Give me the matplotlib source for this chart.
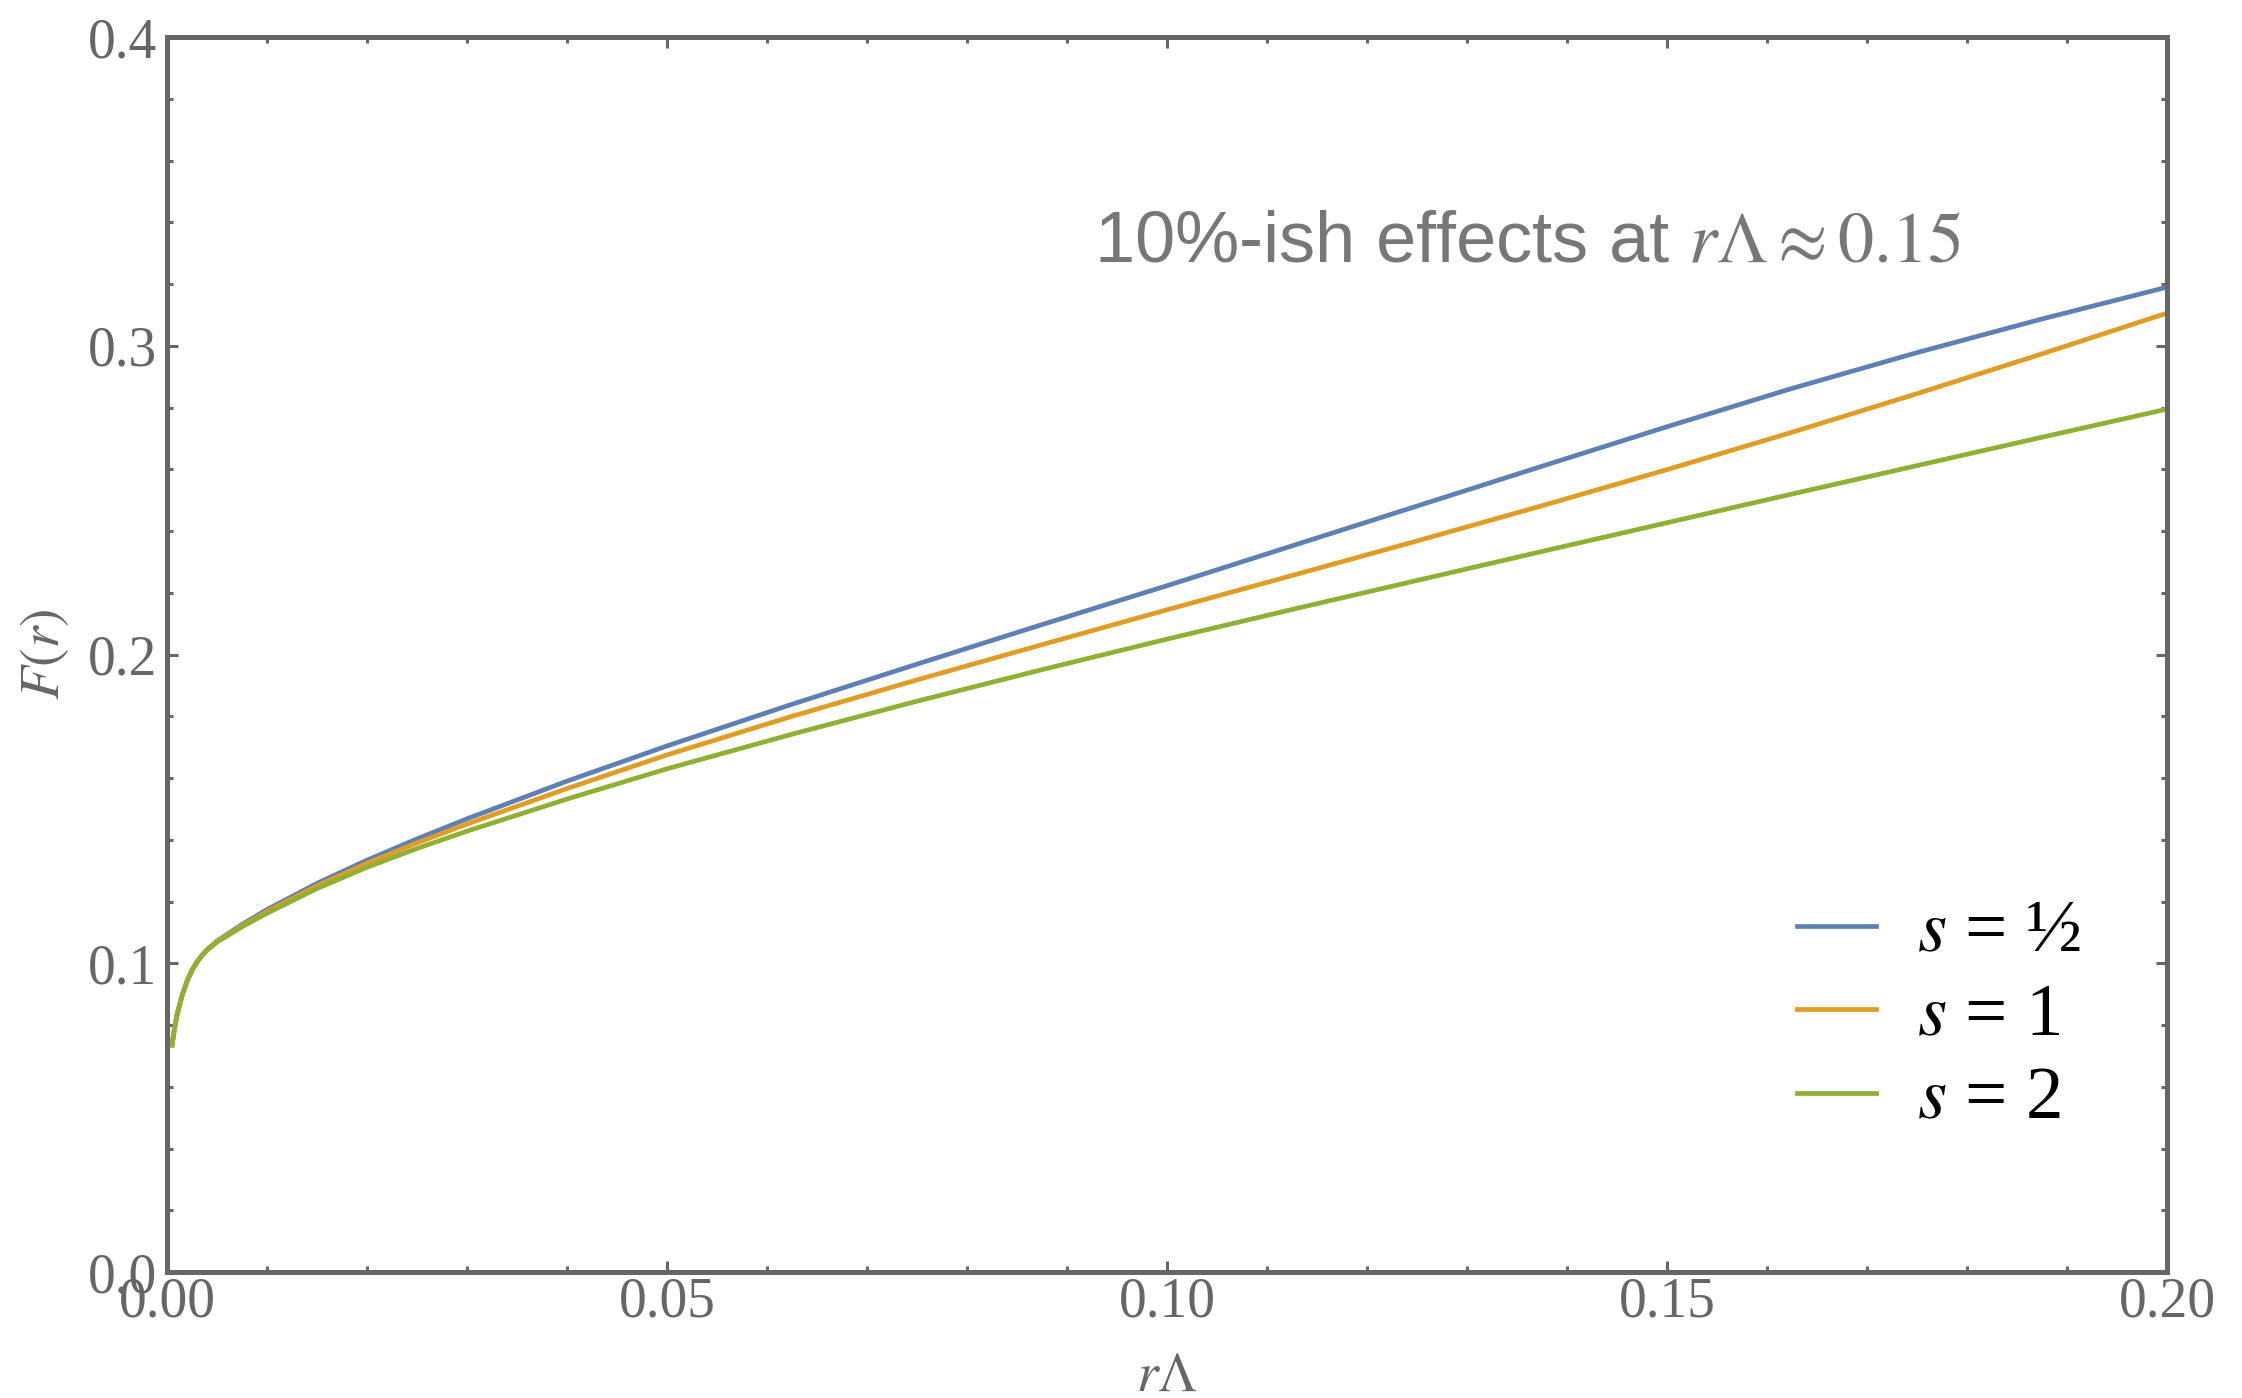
import matplotlib.pyplot as plt
import numpy as np

plt.rcParams['mathtext.fontset'] = 'stix'
plt.rcParams['font.family'] = ['Liberation Serif', 'DejaVu Serif']

# values
r_lam = np.asarray([0.0005, 0.00075, 0.001, 0.0015, 0.002, 0.0025, 0.003, 0.0035, 0.004,
                    0.005, 0.0075, 0.01, 0.015, 0.02, 0.025, 0.03, 0.04, 0.05, 0.0625,
                    0.075, 0.0875, 0.1, 0.1125, 0.125, 0.1375, 0.15, 0.1625, 0.175,
                    0.1875, 0.2])
F_half = [0.0735, 0.0790, 0.0833, 0.0895, 0.0942, 0.0978, 0.1005, 0.1026, 0.1044,
          0.1072, 0.1126, 0.1174, 0.1259, 0.1334, 0.1403, 0.1468, 0.1590, 0.1704, 0.1839,
          0.1969, 0.2097, 0.2223, 0.2352, 0.2481, 0.2610, 0.2738, 0.2862, 0.2978,
          0.3087, 0.3190]
F_one = [0.0735, 0.0790, 0.0833, 0.0895, 0.0942, 0.0978, 0.1005, 0.1026, 0.1043,
         0.1071, 0.1122, 0.1168, 0.1251, 0.1324, 0.1390, 0.1451, 0.1566, 0.1675, 0.1800,
         0.1918, 0.2032, 0.2145, 0.2256, 0.2368, 0.2482, 0.2599, 0.2720, 0.2845,
         0.2974, 0.3106]
F_two = [0.0735, 0.0790, 0.0833, 0.0895, 0.0942, 0.0977, 0.1004, 0.1025, 0.1042,
         0.1069, 0.1118, 0.1162, 0.1242, 0.1311, 0.1372, 0.1428, 0.1532, 0.1630, 0.1742,
         0.1849, 0.1951, 0.2050, 0.2146, 0.2240, 0.2334, 0.2427, 0.2520, 0.2612,
         0.2704, 0.2795]
labels = [r'$s$ = ½', r'$s$ = 1', r'$s$ = 2']
colors = ['#5E81B5', '#E19C24', '#8FB032']

gray = '#666666'

fig = plt.figure(figsize=(11.21, 6.99), dpi=200)
ax = fig.add_axes([0.0745, 0.0901, 0.8921, 0.8834])

for F, lab, c in zip([F_half, F_one, F_two], labels, colors):
    ax.plot(r_lam, F, color=c, lw=1.7, label=lab)

ax.set_xlim(0, 0.2)
ax.set_ylim(0, 0.4)
ax.set_xticks([0, 0.05, 0.10, 0.15, 0.20])
ax.set_xticklabels(['0.00', '0.05', '0.10', '0.15', '0.20'])
ax.set_yticks([0, 0.1, 0.2, 0.3, 0.4])
ax.set_yticklabels(['0.0', '0.1', '0.2', '0.3', '0.4'])
ax.set_xticks(np.arange(0, 0.2001, 0.01), minor=True)
ax.set_yticks(np.arange(0, 0.4001, 0.02), minor=True)

ax.tick_params(which='both', direction='in', top=True, right=True, color=gray,
               labelcolor=gray, labelsize=20, width=1.1)
ax.tick_params(which='major', length=4)
ax.tick_params(which='minor', length=2.2)
ax.tick_params(axis='x', pad=1.5)
ax.tick_params(axis='y', pad=3.5)
for sp in ax.spines.values():
    sp.set_color(gray)
    sp.set_linewidth(1.8)

ax.set_xlabel(r'$r\Lambda$', fontsize=20, color=gray, labelpad=8)
ax.set_ylabel(r'$F(r)$', fontsize=20, color=gray, labelpad=6)

ax.text(0.4635, 0.818, r'10%-ish effects at $r\Lambda \approx 0.15$',
        transform=ax.transAxes, fontsize=26, color='#777777', va='baseline',
        family=['Liberation Sans', 'DejaVu Sans'])

ax.legend(loc='center left', bbox_to_anchor=(0.815, 0.2065), frameon=False,
          fontsize=27, handlelength=1.05, handletextpad=0.55, labelspacing=0.2,
          borderpad=0, borderaxespad=0)

fig.savefig('out.png', dpi=200)
